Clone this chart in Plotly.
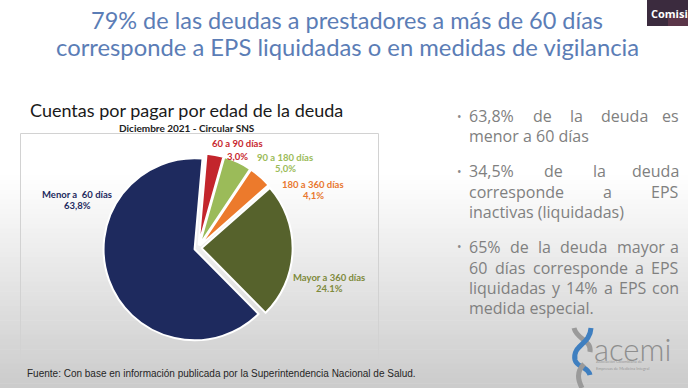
import plotly.graph_objects as go

W, H = 688, 388

# ---------------- data ----------------
categories = ["60 a 90 días", "90 a 180 días", "180 a 360 días", "Mayor a 360 días", "Menor a  60 días"]
values = [3.0, 5.0, 4.1, 24.1, 63.8]
pct_labels = ["3,0%", "5,0%", "4,1%", "24.1%", "63,8%"]
slice_colors = ["#C3252C", "#9BBB59", "#EC7A2C", "#56622C", "#1E2A5E"]
label_colors = ["#C8282F", "#9BBB59", "#E8772E", "#7E8A3C", "#1E2A5E"]

title_lines = ["79% de las deudas a prestadores a más de 60 días",
               "corresponde a EPS liquidadas o en medidas de vigilancia"]
chart_title = "Cuentas por pagar por edad de la deuda"
chart_subtitle = "Diciembre 2021 - Circular SNS"
footer = "Fuente: Con base en información publicada por la Superintendencia Nacional de Salud."

# bullet paragraphs, as wrapped on the slide (justified; last line of each is left aligned)
bullet_paragraphs = [
    ["63,8% de la deuda es", "menor a 60 días"],
    ["34,5% de la deuda", "corresponde a EPS", "inactivas (liquidadas)"],
    ["65% de la deuda mayor a", "60 días corresponde a EPS",
     "liquidadas y 14% a EPS con", "medida especial."],
]

# ---------------- layout helpers ----------------
def px(x):
    return x / W

def py(y):
    return 1 - y / H

annotations = []
shapes = []

def text(x, y, s, size, color, anchor="center", family="Lato", weight="normal"):
    annotations.append(dict(
        x=px(x), y=py(y), xref="paper", yref="paper", text=s, showarrow=False,
        xanchor=anchor, yanchor="middle",
        font=dict(size=size, color=color, family=family, weight=weight)))

# background gradient (white to grey towards bottom)
top_g, bot_g = 175, 388
n = 44
for i in range(n):
    y0 = top_g + (bot_g - top_g) * i / n
    y1 = top_g + (bot_g - top_g) * (i + 1) / n + 0.6
    t = (i + 0.5) / n
    c = int(round(255 - (255 - 203) * t))
    shapes.append(dict(type="rect", xref="paper", yref="paper", layer="below",
                       x0=0, x1=1, y0=py(y1), y1=py(y0),
                       line=dict(width=0), fillcolor=f"rgb({c},{c},{c})"))

# chart frame
shapes.append(dict(type="rect", xref="paper", yref="paper", layer="below",
                   x0=px(20.5), x1=px(378.5), y0=py(361), y1=py(133.5),
                   line=dict(width=1, color="#D2D2D2"), fillcolor="rgba(0,0,0,0)"))

# video overlay corner
shapes.append(dict(type="rect", xref="paper", yref="paper",
                   x0=px(647), x1=1, y0=py(26), y1=1,
                   line=dict(width=0), fillcolor="#3B2B3E"))
shapes.append(dict(type="rect", xref="paper", yref="paper",
                   x0=px(668), x1=1, y0=py(26), y1=py(15),
                   line=dict(width=0), fillcolor="#5A3548"))
text(649, 14, "Comisi", 11, "#FFFFFF", anchor="left", family="Open Sans", weight="bold")

# titles
text(347, 20, title_lines[0], 23.5, "#5B7DB6")
text(347, 47, title_lines[1], 23.8, "#5B7DB6")
text(186, 110, chart_title, 18, "#1A1A1A")
text(187, 128, chart_subtitle, 10, "#222222", weight="bold")

# pie labels
label_pos = [(237, 143, 156), (285, 157, 168), (313, 184, 195), (329, 277, 288), (77, 194, 205)]
for cat, pct, col, (lx, ly1, ly2) in zip(categories, pct_labels, label_colors, label_pos):
    text(lx, ly1, cat, 9.5, col, weight="bold")
    text(lx, ly2, pct, 9.5, col, weight="bold")

# ---- justified bullets ----
OS = {  # approximate Open Sans advance widths (em)
    'a': .556, 'b': .613, 'c': .480, 'd': .613, 'e': .561, 'f': .336, 'g': .547, 'h': .614,
    'i': .258, 'j': .258, 'k': .529, 'l': .258, 'm': .932, 'n': .614, 'o': .600, 'p': .613,
    'q': .613, 'r': .409, 's': .476, 't': .353, 'u': .614, 'v': .500, 'w': .797, 'x': .519,
    'y': .500, 'z': .468, ' ': .260, '%': .85, ',': .260, '.': .266, '(': .296, ')': .296,
    'E': .64, 'P': .67, 'S': .64, 'í': .258, 'á': .556,
}
def width(s, size):
    return sum(OS.get(ch, .58) for ch in s) * size

BS = 16
BCOL = "#808080"
LEFT, RIGHT = 467, 681
line_y = [[116, 136], [171, 192, 212], [247, 268, 288, 308]]
for para, ys in zip(bullet_paragraphs, line_y):
    text(455, ys[0], "•", 12, "#8A8A8A", anchor="left", family="Open Sans")
    for k, (line, yy) in enumerate(zip(para, ys)):
        if k == len(para) - 1:
            text(LEFT, yy, line, BS, BCOL, anchor="left", family="Open Sans")
            continue
        words = line.split(" ")
        ws = [width(w, BS) for w in words]
        gap = (RIGHT - LEFT - sum(ws)) / (len(words) - 1)
        x = LEFT
        for j, (w, wd) in enumerate(zip(words, ws)):
            if j == len(words) - 1:
                text(RIGHT, yy, w, BS, BCOL, anchor="right", family="Open Sans")
            else:
                text(x, yy, w, BS, BCOL, anchor="left", family="Open Sans")
            x += wd + gap

# footer
text(25, 373, footer, 10, "#262626", anchor="left", family="Liberation Sans")

# logo: helix + text
def P(x, y):
    return f"{px(x):.5f},{py(y):.5f}"

shapes.append(dict(type="path", xref="paper", yref="paper",
                   path=f"M {P(574,328)} C {P(577,340)} {P(592,340)} {P(590,352)}",
                   line=dict(color="#9A9A9A", width=5)))
shapes.append(dict(type="path", xref="paper", yref="paper",
                   path=f"M {P(591,328)} C {P(590,345)} {P(572,345)} {P(575,360)} C {P(577,368)} {P(588,366)} {P(590,375)}",
                   line=dict(color="#3F7FC0", width=5)))
shapes.append(dict(type="path", xref="paper", yref="paper",
                   path=f"M {P(584,364)} C {P(576,372)} {P(578,380)} {P(582,388)}",
                   line=dict(color="#9A9A9A", width=5)))
text(592, 349, "acemi", 31, "#8E8E8E", anchor="left", family="Lato", weight=300)
text(594, 361, "Asociación Colombiana de", 4, "#9A9A9A", anchor="left")
text(594, 368.5, "Empresas de Medicina Integral", 4, "#9A9A9A", anchor="left")

# ---------------- pie ----------------
cx, cy, r = 198, 248, 91
pull = 0.04
R = r * (1 + pull)
fig = go.Figure(go.Pie(
    labels=categories, values=values, sort=False, direction="clockwise",
    rotation=5, pull=[pull] * len(values), textinfo="none", hoverinfo="label+percent",
    marker=dict(colors=slice_colors, line=dict(color="#FFFFFF", width=2)),
    domain=dict(x=[px(cx - R), px(cx + R)], y=[py(cy + R), py(cy - R)]),
    showlegend=False))

fig.update_layout(
    width=W, height=H, margin=dict(l=0, r=0, t=0, b=0),
    paper_bgcolor="#FFFFFF", plot_bgcolor="#FFFFFF",
    annotations=annotations, shapes=shapes, showlegend=False)

fig.write_html("out.html", config={"displayModeBar": False},
               post_script="document.body.style.margin='0';document.body.style.overflow='hidden';")
